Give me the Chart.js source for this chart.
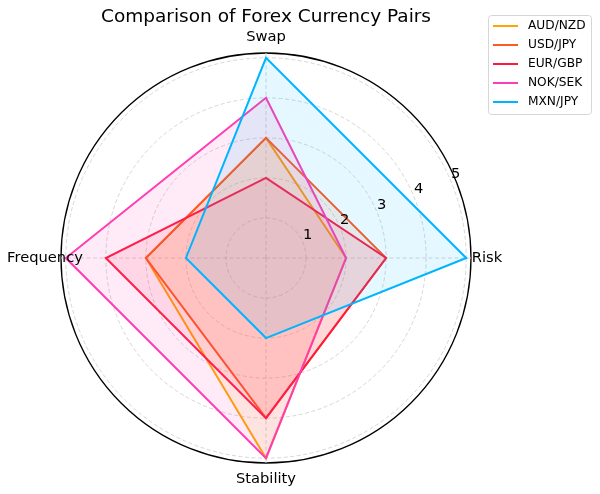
<!DOCTYPE html>
<html>
<head>
    <title>Forex radar</title>
    <script src="https://cdn.jsdelivr.net/npm/chart.js"></script>
    <style>
        body { margin: 0; background: #fff; }
        #wrap { width: 600px; height: 494px; }
    </style>
</head>
<body>
    <div id="wrap"><canvas id="chart"></canvas></div>
    <script>
        // axes as in the picture, going counter-clockwise from the right
        const categories = ['Risk', 'Swap', 'Frequency', 'Stability'];
        const pairs = ['AUD/NZD', 'USD/JPY', 'EUR/GBP', 'NOK/SEK', 'MXN/JPY'];
        const audNzd = [2, 3, 3, 5];
        const usdJpy = [3, 3, 3, 4];
        const eurGbp = [3, 2, 4, 4];
        const nokSek = [2, 4, 5, 5];
        const mxnJpy = [5, 5, 2, 2];
        const colors = ['#ffa500', '#ff5a1f', '#ff1a40', '#ff3cb4', '#00b4ff'];
        const rTicks = [1, 2, 3, 4, 5];
        const rMax = 5.12;

        // chart.js goes clockwise, so flip everything after the first axis
        const ccw = arr => [arr[0], ...arr.slice(1).reverse()];
        const series = [audNzd, usdJpy, eurGbp, nokSek, mxnJpy];

        function alpha(hex, a) {
            const n = parseInt(hex.slice(1), 16);
            return `rgba(${n >> 16}, ${(n >> 8) & 255}, ${n & 255}, ${a})`;
        }

        const font = '"DejaVu Sans", sans-serif';

        const extras = {
            id: 'extras',
            afterDraw(chart) {
                const ctx = chart.ctx;
                const r = chart.scales.r;
                ctx.save();
                ctx.fillStyle = '#000';
                // axis names
                ctx.font = '14.7px ' + font;
                ctx.textAlign = 'center';
                ctx.textBaseline = 'middle';
                chart.data.labels.forEach((lab, i) => {
                    const p = r.getPointPosition(i, r.drawingArea + 16);
                    ctx.fillText(lab, p.x, p.y);
                });
                // radial tick labels at 22.5 degrees
                const a = 22.5 * Math.PI / 180;
                ctx.textAlign = 'left';
                ctx.textBaseline = 'bottom';
                rTicks.forEach(v => {
                    const d = r.getDistanceFromCenterForValue(v);
                    ctx.fillText(String(v), r.xCenter + d * Math.cos(a), r.yCenter - d * Math.sin(a));
                });
                // legend box
                const lx = 488.5, ly = 15.5, lw = 103, lh = 99;
                ctx.beginPath();
                ctx.roundRect(lx, ly, lw, lh, 3);
                ctx.fillStyle = 'rgba(255,255,255,0.8)';
                ctx.fill();
                ctx.strokeStyle = '#d6d6d6';
                ctx.lineWidth = 1;
                ctx.stroke();
                ctx.font = '12.2px ' + font;
                ctx.textBaseline = 'middle';
                chart.data.datasets.forEach((ds, i) => {
                    const y = 26 + i * 19;
                    ctx.beginPath();
                    ctx.moveTo(493, y);
                    ctx.lineTo(518, y);
                    ctx.strokeStyle = ds.borderColor;
                    ctx.lineWidth = 2;
                    ctx.stroke();
                    ctx.fillStyle = '#000';
                    ctx.fillText(ds.label, 528, y);
                });
                ctx.restore();
            }
        };

        new Chart(document.getElementById('chart'), {
            type: 'radar',
            data: {
                labels: ccw(categories),
                datasets: pairs.map((name, i) => ({
                    label: name,
                    data: ccw(series[i]),
                    borderColor: colors[i],
                    backgroundColor: alpha(colors[i], 0.1),
                    borderWidth: 2,
                    pointRadius: 0,
                    fill: true,
                    order: pairs.length - i
                }))
            },
            options: {
                responsive: true,
                maintainAspectRatio: false,
                animation: false,
                layout: { padding: { left: 61, right: 129, top: 0, bottom: 31 } },
                plugins: {
                    legend: { display: false },
                    tooltip: { enabled: false },
                    title: {
                        display: true,
                        fullSize: false,
                        text: 'Comparison of Forex Currency Pairs',
                        color: '#000',
                        font: { family: font, size: 18.5, weight: 'normal' },
                        padding: { top: 6, bottom: 24.8 }
                    }
                },
                scales: {
                    r: {
                        min: 0,
                        max: rMax,
                        startAngle: 90,
                        afterBuildTicks: s => {
                            s.ticks = [0, ...rTicks, rMax].map(v => ({ value: v }));
                        },
                        ticks: { display: false },
                        pointLabels: { display: false },
                        grid: {
                            circular: true,
                            color: c => c.index === rTicks.length + 1 ? '#000' : '#cccccc',
                            lineWidth: c => c.index === rTicks.length + 1 ? 1.3 : 0.8
                        },
                        border: {
                            dash: c => c.index === rTicks.length + 1 ? [] : [4, 2.5]
                        },
                        angleLines: {
                            color: '#cccccc',
                            lineWidth: 0.8,
                            borderDash: [4, 2.5]
                        }
                    }
                }
            },
            plugins: [extras]
        });
    </script>
</body>
</html>
